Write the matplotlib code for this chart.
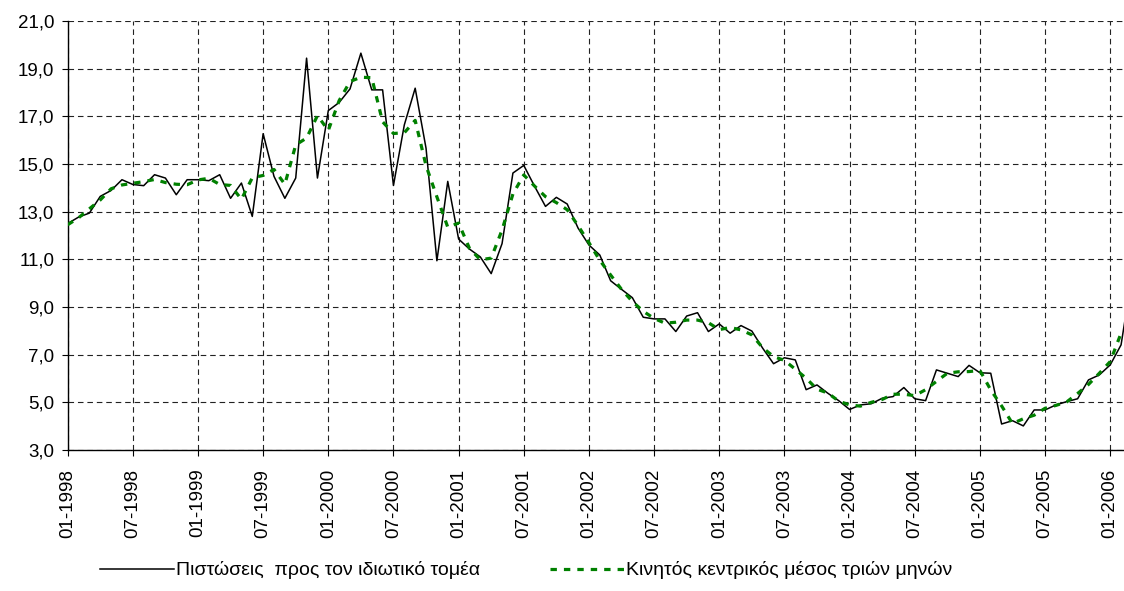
import numpy as np
import matplotlib
matplotlib.use('Agg')
import matplotlib.pyplot as plt

plt.rcParams['font.family'] = ['Liberation Sans', 'DejaVu Sans']

# monthly data, 01-1998 .. 03-2006 (last point runs off the right edge)
credit_growth = [12.50, 12.77, 12.94, 13.64, 13.89, 14.34, 14.14, 14.09, 14.55, 14.41, 13.71, 14.34,
                 14.34, 14.30, 14.55, 13.56, 14.20, 12.80, 16.27, 14.48, 13.56, 14.41, 19.44, 14.41,
                 17.24, 17.58, 18.15, 19.65, 18.11, 18.11, 14.10, 16.64, 18.18, 15.66, 10.94, 14.27,
                 11.85, 11.43, 11.10, 10.40, 11.66, 14.62, 14.94, 14.06, 13.22, 13.60, 13.32, 12.31,
                 11.60, 11.18, 10.10, 9.74, 9.39, 8.57, 8.50, 8.50, 7.97, 8.62, 8.76, 7.97,
                 8.29, 7.90, 8.22, 7.99, 7.27, 6.62, 6.87, 6.78, 5.53, 5.73, 5.38, 5.07,
                 4.70, 4.89, 4.94, 5.17, 5.24, 5.62, 5.15, 5.07, 6.36, 6.22, 6.08, 6.55,
                 6.24, 6.22, 4.09, 4.23, 4.01, 4.68, 4.68, 4.89, 5.03, 5.15, 5.94, 6.15,
                 6.57, 7.41, 10.30]

moving_avg = [12.45, 12.74, 13.12, 13.49, 13.96, 14.12, 14.19, 14.26, 14.35, 14.22, 14.15, 14.13,
              14.33, 14.40, 14.14, 14.10, 13.52, 14.42, 14.52, 14.77, 14.15, 15.80, 16.09, 17.03,
              16.41, 17.66, 18.46, 18.64, 18.62, 16.77, 16.28, 16.31, 16.83, 14.93, 13.62, 12.35,
              12.52, 11.46, 10.98, 11.05, 12.23, 13.74, 14.54, 14.07, 13.63, 13.38, 13.08, 12.41,
              11.70, 10.96, 10.34, 9.74, 9.23, 8.82, 8.52, 8.32, 8.36, 8.45, 8.45, 8.34,
              8.05, 8.14, 8.04, 7.83, 7.29, 6.92, 6.76, 6.39, 6.01, 5.55, 5.39, 5.05,
              4.89, 4.84, 5.00, 5.12, 5.34, 5.34, 5.28, 5.53, 5.88, 6.22, 6.28, 6.29,
              6.34, 5.52, 4.85, 4.11, 4.31, 4.46, 4.75, 4.87, 5.02, 5.37, 5.75, 6.22,
              6.71, 7.90]

tick_labels = ['01-1998', '07-1998', '01-1999', '07-1999', '01-2000', '07-2000', '01-2001',
               '07-2001', '01-2002', '07-2002', '01-2003', '07-2003', '01-2004', '07-2004',
               '01-2005', '07-2005', '01-2006']

y_ticks = [3, 5, 7, 9, 11, 13, 15, 17, 19, 21]

fig = plt.figure(figsize=(11.24, 5.91), dpi=100)
ax = fig.add_axes([0.0602, 0.2386, 0.9398, 0.7259])

ax.plot(np.arange(len(credit_growth)), credit_growth, color='black', lw=1.1,
        label='Πιστώσεις  προς τον ιδιωτικό τομέα', zorder=3)
ax.plot(np.arange(len(moving_avg)), moving_avg, color='#008000', lw=2.3,
        linestyle=(0, (2.0, 2.2)), label='Κινητός κεντρικός μέσος τριών μηνών', zorder=4)

ax.set_xlim(0, 97.27)
ax.set_ylim(3, 21)
ax.set_xticks(np.arange(0, 6 * len(tick_labels), 6))
ax.set_xticklabels(tick_labels, rotation=90, fontsize=13.5)
ax.set_yticks(y_ticks)
ax.set_yticklabels(['{:.1f}'.format(v).replace('.', ',') for v in y_ticks], fontsize=13.5)

ax.grid(True, color='#222222', lw=0.8, linestyle=(0, (5, 3.5)))
ax.set_axisbelow(True)
ax.spines['top'].set_visible(False)
ax.spines['right'].set_visible(False)
ax.spines['left'].set_linewidth(1.0)
ax.spines['bottom'].set_linewidth(1.0)
ax.tick_params(axis='y', direction='out', length=4.5, width=0.8, pad=5)
ax.tick_params(axis='x', direction='out', length=4.5, width=0.8, pad=9)

fig.legend(loc='center', bbox_to_anchor=(0.468, 0.035), ncol=2, frameon=False,
           fontsize=14, handlelength=3.8, columnspacing=3.6, handletextpad=0.1)

fig.savefig('out.png', dpi=100)
